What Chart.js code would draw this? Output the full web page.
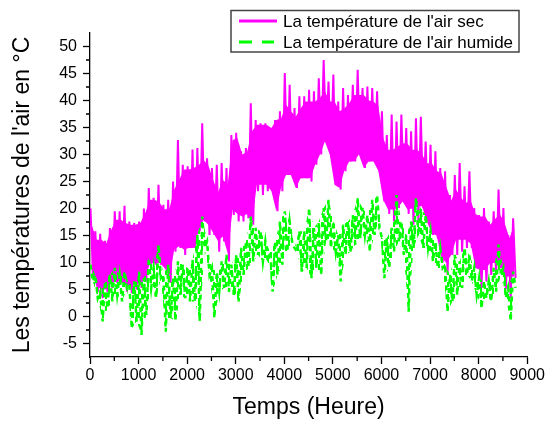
<!DOCTYPE html>
<html>
<head>
<meta charset="utf-8">
<script src="https://cdn.jsdelivr.net/npm/chart.js@4.4.1/dist/chart.umd.min.js"></script>
<style>
html,body{margin:0;padding:0;background:#fff;}
</style>
</head>
<body>
<canvas id="chart" width="547" height="421"></canvas>
<script>
// start of each 100 h block (Heure)
const hours = [0,100,200,300,400,500,600,700,800,900,
  1000,1100,1200,1300,1400,1500,1600,1700,1800,1900,
  2000,2100,2200,2300,2400,2500,2600,2700,2800,2900,
  3000,3100,3200,3300,3400,3500,3600,3700,3800,3900,
  4000,4100,4200,4300,4400,4500,4600,4700,4800,4900,
  5000,5100,5200,5300,5400,5500,5600,5700,5800,5900,
  6000,6100,6200,6300,6400,6500,6600,6700,6800,6900,
  7000,7100,7200,7300,7400,7500,7600,7700,7800,7900,
  8000,8100,8200,8300,8400,8500,8600,8700];

// air sec : extreme max / min of each block (°C)
const dryHigh = [20,15.8,15.3,14,16.4,19.5,19.5,20.5,17.6,17.3,
  17.6,20,23.8,22,24.4,20.7,21.6,25,32.7,28.1,
  27.8,30.9,31.2,35.8,29.3,27.5,28.1,28.4,27.5,33.6,
  34,30.6,31.2,39.5,36.4,35.8,35.8,34.9,36.4,38,
  45.1,42.9,38.6,40.8,40.8,42,41.7,44.1,47.5,43.5,
  44.8,39.8,42.3,41,42.9,45.7,42.3,42.6,42.3,41.7,
  38,33.6,37.4,36.1,37.4,34.9,34.3,36.7,37,32.4,
  31.8,30.6,27.5,26.9,22.5,26.2,28.4,24.1,26.9,20.1,
  18.8,20.1,17.6,19.5,23.5,20.1,15.1,18.2];
const dryLow = [8,4.5,3.4,4.5,5.3,6.2,6.2,4.6,4.3,5,
  5.3,6.5,9.6,9.6,9.6,8.9,6.2,12,12.7,11.4,
  12.7,12.7,15.8,17.6,15.1,15.1,12,13.9,10.2,18.8,
  17.6,17.6,18.2,17,23.2,22.5,23.2,23.2,19.5,23.2,
  26.2,26.2,23.8,25.6,25.6,25,28.1,30,32.4,30,
  24.4,23.5,26.9,28.7,28.7,30,27.5,28.7,28.7,26.9,
  21.3,19,17.6,20.1,21.3,19,17,17.6,20.1,17.6,
  15.1,14.5,10,7.7,11.4,11.4,12,12.7,12.7,9,
  5.3,6.5,7.7,7.7,9,5,3.4,7.1];
// air sec : upper / lower edge of the dense daily band (°C)
const dryBodyHigh = [17,14.2,14.2,13.5,16,17.9,17.9,17.3,17,17,
  17.3,19.1,21.6,21.6,21,19.8,20,23.5,25.3,27.2,
  27.2,27.5,28,29,28,25.3,23,25.3,24.5,32.7,
  33,30,30.5,34.3,35.5,35.5,35.5,34.9,36.4,36.7,
  39.2,38,37,38.5,39.8,39.8,39.8,40.5,41.7,39.8,
  39.8,38,38.5,39.5,41,41,41,40,39.8,39,
  33,30.9,30.9,31.5,32.1,32,30.9,30.9,30,28.4,
  28.4,27,26.5,24,21.5,23.5,22,21,21.5,19,
  18.5,18.5,17,18,19,17.3,14.5,17];
const dryBodyLow = [8,5.6,5,5,6.2,6.5,6.5,6,5.5,6,
  6.2,7,9.9,9.9,9.9,9,7.4,12.4,13,12.4,
  12.7,12.7,15.8,17.9,17,15.5,14,14.8,11.7,19.8,
  19,18.5,19,17.5,24.4,24.4,24.4,23.2,19.5,24,
  26.2,26.2,23.8,25.6,25.6,25.6,28.1,30,32.4,30,
  24.4,23.8,27,28.7,28.7,30,27.5,28.7,28.7,27,
  21.6,19.8,19.8,20.1,21.3,19.8,20,20.4,20.4,17.6,
  15.4,15,11,9.9,11.4,14.2,14.2,14.2,13.5,9,
  8.6,8.6,9.9,9.9,9.9,7.4,7.4,7.4];

// air humide : max / min of each block (°C)
const humidHigh = [9.6,7.7,4.6,6.5,7.7,9,7.7,8.3,5.9,6.5,
  8.3,7.1,10.8,9,13.3,7.7,9.6,7.1,10.2,9.6,
  9,10.5,15.1,18.5,13.9,9,8.3,10.2,11.4,9.6,
  11.4,12.7,13.9,18.5,16.4,15.8,13.9,12,13.9,17.6,
  19.5,17.6,12.7,15.8,15.8,20.1,16.4,17.6,20.1,21.6,
  17.6,15.1,17,17.6,18.8,21.9,20.1,18.8,21.6,22.5,
  14.5,14.5,16.4,22.5,17.6,15,17.6,21.9,20,18.8,
  15.8,13.9,12.7,9.6,7.7,11.4,10.2,12.7,11.4,9,
  7.1,6.5,6.5,9,13.3,9,5.3,8.3];
const humidLow = [6.5,3.4,-0.9,1.5,2.8,4,2.8,5.3,-2.2,-0.9,
  -3.4,0.3,5.3,3.4,7.1,-2.8,-0.3,-0.9,4,3.4,
  2.8,2.8,-0.9,12.7,7.7,-0.3,4.6,5.3,4.6,4,
  2.8,7.7,9,10.2,11.4,10.2,10.2,4.6,7.7,9.6,
  12,13.9,12,8.3,9,7.1,9,7.7,13.9,12.7,
  12,6.5,11.4,12,13.3,14.5,15.1,12,15.1,16.4,
  7.1,9,12,13.9,11.4,0.9,12.7,15.1,12.7,12.7,
  10.2,9,9,0.9,2.8,4,5.3,7.7,6.5,4,
  1.5,3.4,2.8,4.6,7.7,3.4,-0.9,5.3];

const labels = ["La température de l'air sec", "La température de l'air humide"];
const FONT = '"Liberation Sans", Arial, sans-serif';
const MAGENTA = "#ff00ff", GREEN = "#00ff00";

// hourly swing inside each block: max then min
function zigzag(hi, lo){
    let pts = [];
    hours.forEach((h,i)=>{
        pts.push({x:h+10, y:hi[i]});
        pts.push({x:h+60, y:lo[i]});
    });
    return pts;
}
function edge(vals, off){
    return hours.map((h,i)=>({x:h+off, y:vals[i]}));
}

let canvas = document.getElementById("chart");
let ctx = canvas.getContext("2d");

// broken green texture for the humid band
let tile = document.createElement("canvas");
tile.width = 6; tile.height = 12;
let tg = tile.getContext("2d");
tg.fillStyle = GREEN;
tg.fillRect(0,0,2,6);
tg.fillRect(3,6,2,5);
let greenDash = ctx.createPattern(tile,"repeat");

// minor ticks + boxed legend
const extras = {
    id:"extras",
    afterDraw(chart){
        const c = chart.ctx, x = chart.scales.x, y = chart.scales.y;
        c.save();
        c.strokeStyle = "#000";
        c.lineWidth = 1.3;
        c.beginPath();
        y.ticks.forEach(t=>{
            if(t.value%5!==0 && t.value>y.min && t.value<y.max){
                let p = y.getPixelForValue(t.value);
                c.moveTo(x.left-4,p); c.lineTo(x.left,p);
            }
        });
        x.ticks.forEach(t=>{
            if(t.value%1000!==0){
                let p = x.getPixelForValue(t.value);
                c.moveTo(p,y.bottom); c.lineTo(p,y.bottom+4);
            }
        });
        c.stroke();

        // legend
        c.fillStyle = "#fff";
        c.fillRect(231,10,288,42);
        c.strokeStyle = "#444";
        c.lineWidth = 1.5;
        c.strokeRect(231,10.5,288,41.5);
        const rows = [21,42];
        chart.data.datasets.filter(ds=>ds.label).forEach((ds,i)=>{
            let ry = rows[i];
            c.strokeStyle = ds.borderColor;
            c.lineWidth = 3;
            c.setLineDash(ds.borderDash ? [13,10] : []);
            c.beginPath();
            c.moveTo(239,ry); c.lineTo(i ? 274 : 277,ry);
            c.stroke();
            c.setLineDash([]);
            c.fillStyle = "#000";
            c.font = "17px " + FONT;
            c.textBaseline = "alphabetic";
            c.fillText(ds.label,283,ry+6.3);
        });
        c.restore();
    }
};

new Chart(canvas,{
    type:"line",
    data:{
        datasets:[
            {label:labels[0], data:zigzag(dryHigh,dryLow), borderColor:MAGENTA,
             borderWidth:2, pointRadius:0, tension:0, order:3},
            {data:edge(dryBodyHigh,35), borderWidth:0, pointRadius:0, tension:0,
             fill:"+1", backgroundColor:MAGENTA, order:4},
            {data:edge(dryBodyLow,35), borderWidth:0, pointRadius:0, tension:0, order:4},
            {label:labels[1], data:zigzag(humidHigh,humidLow), borderColor:GREEN,
             borderWidth:2.5, borderDash:[5,4], pointRadius:0, tension:0, order:1},
            {data:edge(humidHigh,10), borderWidth:0, pointRadius:0, tension:0,
             fill:"+1", backgroundColor:greenDash, order:2},
            {data:edge(humidLow,60), borderWidth:0, pointRadius:0, tension:0, order:2}
        ]
    },
    options:{
        responsive:false,
        animation:false,
        layout:{padding:{top:33,right:19,bottom:0,left:0}},
        plugins:{legend:{display:false}, tooltip:{enabled:false}},
        scales:{
            x:{
                type:"linear", min:0, max:9000,
                afterFit:s=>{ s.height = 64; },
                ticks:{stepSize:500, autoSkip:false, maxRotation:0, padding:2,
                    color:"#000", font:{family:FONT,size:16},
                    callback:v=> v%1000===0 ? v : ""},
                grid:{drawOnChartArea:false, tickLength:7, tickWidth:1.3,
                    tickColor:c=> c.tick && c.tick.value%1000===0 ? "#000" : "rgba(0,0,0,0)"},
                border:{color:"#000", width:1.3},
                title:{display:true, text:"Temps (Heure)", color:"#000",
                    font:{family:FONT,size:23}, padding:{top:0,bottom:0}}
            },
            y:{
                min:-7.5, max:52.5,
                afterFit:s=>{ s.width = 90; },
                ticks:{stepSize:2.5, autoSkip:false, padding:6,
                    color:"#000", font:{family:FONT,size:16},
                    callback:v=> v%5===0 ? v : ""},
                grid:{drawOnChartArea:false, tickLength:7, tickWidth:1.3,
                    tickColor:c=> c.tick && c.tick.value%5===0 ? "#000" : "rgba(0,0,0,0)"},
                border:{color:"#000", width:1.3},
                title:{display:true, text:"Les températures de l'air en °C", color:"#000",
                    font:{family:FONT,size:23}, padding:{top:9,bottom:0}}
            }
        }
    },
    plugins:[extras]
});
</script>
</body>
</html>
